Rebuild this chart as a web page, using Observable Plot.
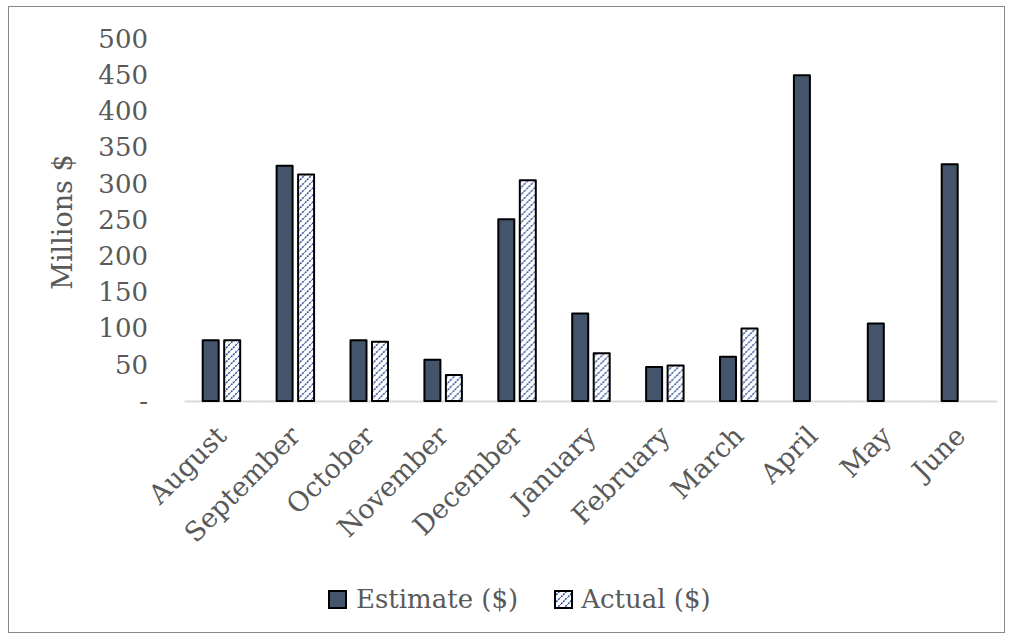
<!DOCTYPE html>
<html><head><meta charset="utf-8">
<script src="https://cdn.jsdelivr.net/npm/d3@7"></script>
<script src="https://cdn.jsdelivr.net/npm/@observablehq/plot@0.6"></script>
<style>
body{margin:0;background:#fff;font-family:"DejaVu Serif",serif;}
#wrap{position:relative;width:1012px;height:637px;overflow:hidden;background:#fff}
#frame{position:absolute;left:8px;top:6px;width:997px;height:627px;border:1.5px solid #888;box-sizing:border-box}
#chart{position:absolute;left:0;top:0}
#ylabel{position:absolute;left:62px;top:222px;transform:translate(-50%,-50%) rotate(-90deg);color:#595959;font-size:27px;white-space:nowrap}
#legend{position:absolute;left:328px;top:584px;display:flex;align-items:center;color:#595959;font-size:26px;white-space:nowrap}
#legend .item{display:flex;align-items:center}
#legend svg{display:block}
</style></head><body>
<div id="wrap"><div id="frame"></div><div id="chart"></div><div id="ylabel"></div><div id="legend"></div></div>
<script>
const months = ["August","September","October","November","December","January","February","March","April","May","June"];
const series = ["Estimate ($)","Actual ($)"];
const estimate = [84, 325, 84, 57, 251, 121, 47, 61, 450, 107, 327];
const actual = [84, 313, 82, 36, 305, 66, 49, 100, null, null, null];
const yTicks = [0, 50, 100, 150, 200, 250, 300, 350, 400, 450, 500];
const yLabel = "Millions $";

const estRows = months.map((m, i) => ({month: m, series: series[0], value: estimate[i]}));
const actRows = months.map((m, i) => ({month: m, series: series[1], value: actual[i]})).filter(d => d.value != null);

const hatchDef = (id) => `<pattern id="${id}" patternUnits="userSpaceOnUse" width="7" height="7">
  <rect width="7" height="7" fill="#fff"/>
  <path d="M-1.75,1.75 L1.75,-1.75 M0,7 L7,0 M5.25,8.75 L8.75,5.25" stroke="#2a4a9a" stroke-width="1.5" stroke-dasharray="2 1"/>
</pattern>`;

const plot = Plot.plot({
  width: 1012,
  height: 560,
  marginLeft: 184.5,
  marginRight: 14.6,
  marginTop: 39,
  marginBottom: 159,
  style: {fontFamily: '"DejaVu Serif", serif', fontSize: "26px", color: "#595959", background: "transparent", overflow: "visible"},
  fx: {domain: months, padding: 0, round: false, label: null},
  x: {domain: series, paddingInner: 0.256, paddingOuter: 0.847, round: false, axis: null},
  y: {domain: [0, 500], axis: null},
  marks: [
    Plot.axisY({ticks: yTicks, tickFormat: d => d === 0 ? "-" : String(d), tickSize: 0, tickPadding: 37, label: null, fontSize: 26, fill: "#595959"}),
    Plot.axisFx({anchor: "bottom", tickRotate: -45, tickSize: 0, tickPadding: 30, label: null, fontSize: 27, fill: "#595959"}),
    Plot.ruleY([0], {stroke: "#d9d9d9", strokeWidth: 2}),
    Plot.barY(estRows, {fx: "month", x: "series", y: "value", fill: "#44546a", stroke: "#000", strokeWidth: 2, strokeLinejoin: "round"}),
    Plot.barY(actRows, {fx: "month", x: "series", y: "value", fill: "url(#hatch)", stroke: "#000", strokeWidth: 2, strokeLinejoin: "round"})
  ]
});
const defs = document.createElementNS("http://www.w3.org/2000/svg", "defs");
defs.innerHTML = hatchDef("hatch");
plot.insertBefore(defs, plot.firstChild);
document.getElementById("chart").appendChild(plot);
document.getElementById("ylabel").textContent = yLabel;

const legend = document.getElementById("legend");
legend.innerHTML = `
<div class="item"><svg width="19" height="19"><rect x="1" y="1" width="17" height="17" fill="#44546a" stroke="#000" stroke-width="2"/></svg><span style="margin-left:9px">${series[0]}</span></div>
<div class="item" style="margin-left:36px"><svg width="19" height="19"><defs>${hatchDef("hatch2")}</defs><rect x="1" y="1" width="17" height="17" fill="url(#hatch2)" stroke="#000" stroke-width="2"/></svg><span style="margin-left:8px">${series[1]}</span></div>`;
</script>
</body></html>
